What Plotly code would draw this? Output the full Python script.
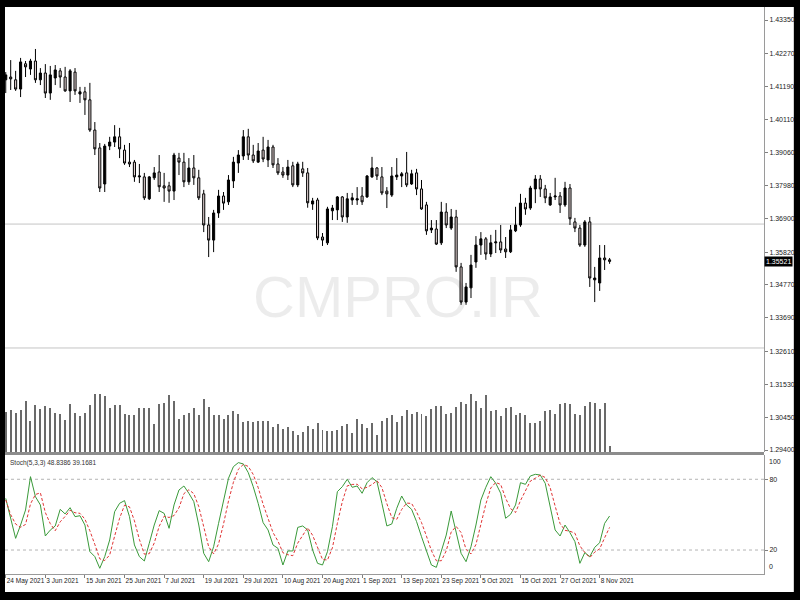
import plotly.graph_objects as go

# ---------------- data ----------------
tick_index = [0, 8, 16, 24, 32, 40, 48, 56, 64, 72, 80, 88, 96, 104, 112, 120]
tick_labels = ["24 May 2021", "3 Jun 2021", "15 Jun 2021", "25 Jun 2021", "7 Jul 2021",
               "19 Jul 2021", "29 Jul 2021", "10 Aug 2021", "20 Aug 2021", "1 Sep 2021",
               "13 Sep 2021", "23 Sep 2021", "5 Oct 2021", "15 Oct 2021", "27 Oct 2021",
               "8 Nov 2021"]

price_ticks = [1.43350, 1.42270, 1.41190, 1.40110, 1.39060, 1.37980, 1.36900,
               1.35820, 1.34770, 1.33690, 1.32610, 1.31530, 1.30450, 1.29400]

open_ = [1.4141, 1.4150, 1.4141, 1.4111, 1.4193, 1.4176, 1.4202, 1.4141, 1.4163, 1.4098,
         1.4147, 1.4170, 1.4150, 1.4105, 1.4166, 1.4095, 1.4102, 1.4076, 1.3978, 1.3920,
         1.3803, 1.3926, 1.3939, 1.3956, 1.3913, 1.3874, 1.3874, 1.3826, 1.3826, 1.3755,
         1.3823, 1.3842, 1.3797, 1.3797, 1.3780, 1.3887, 1.3874, 1.3810, 1.3855, 1.3823,
         1.3771, 1.3670, 1.3621, 1.3709, 1.3764, 1.3745, 1.3813, 1.3871, 1.3894, 1.3956,
         1.3897, 1.3874, 1.3913, 1.3881, 1.3923, 1.3868, 1.3842, 1.3832, 1.3862, 1.3800,
         1.3852, 1.3839, 1.3738, 1.3751, 1.3631, 1.3612, 1.3716, 1.3719, 1.3761, 1.3696,
         1.3751, 1.3751, 1.3764, 1.3761, 1.3826, 1.3855, 1.3826, 1.3780, 1.3767, 1.3826,
         1.3829, 1.3839, 1.3803, 1.3839, 1.3787, 1.3735, 1.3654, 1.3657, 1.3612, 1.3712,
         1.3660, 1.3696, 1.3534, 1.3420, 1.3466, 1.3550, 1.3605, 1.3625, 1.3576, 1.3612,
         1.3615, 1.3592, 1.3583, 1.3651, 1.3670, 1.3741, 1.3725, 1.3787, 1.3819, 1.3787,
         1.3735, 1.3761, 1.3764, 1.3735, 1.3790, 1.3680, 1.3660, 1.3605, 1.3680, 1.3492,
         1.3482, 1.3563, 1.3557]

high = [1.4166, 1.4205, 1.4170, 1.4212, 1.4202, 1.4209, 1.4241, 1.4179, 1.4192, 1.4186,
        1.4189, 1.4179, 1.4183, 1.4176, 1.4179, 1.4118, 1.4118, 1.4131, 1.4004, 1.3936,
        1.3933, 1.3956, 1.3994, 1.3985, 1.3930, 1.3936, 1.3881, 1.3868, 1.3839, 1.3829,
        1.3858, 1.3897, 1.3839, 1.3810, 1.3904, 1.3904, 1.3904, 1.3887, 1.3897, 1.3849,
        1.3784, 1.3696, 1.3719, 1.3784, 1.3777, 1.3832, 1.3891, 1.3913, 1.3978, 1.3982,
        1.3930, 1.3936, 1.3956, 1.3946, 1.3930, 1.3887, 1.3858, 1.3881, 1.3875, 1.3875,
        1.3875, 1.3855, 1.3758, 1.3758, 1.3644, 1.3729, 1.3735, 1.3764, 1.3764, 1.3774,
        1.3774, 1.3793, 1.3793, 1.3832, 1.3891, 1.3858, 1.3858, 1.3793, 1.3858, 1.3887,
        1.3842, 1.3907, 1.3849, 1.3852, 1.3816, 1.3745, 1.3686, 1.3686, 1.3745, 1.3741,
        1.3722, 1.3719, 1.3547, 1.3482, 1.3573, 1.3634, 1.3647, 1.3631, 1.3638, 1.3654,
        1.3670, 1.3631, 1.3670, 1.3729, 1.3771, 1.3758, 1.3797, 1.3832, 1.3832, 1.3800,
        1.3774, 1.3823, 1.3777, 1.3810, 1.3803, 1.3693, 1.3670, 1.3686, 1.3696, 1.3534,
        1.3605, 1.3605, 1.3563]

low = [1.4098, 1.4108, 1.4105, 1.4085, 1.4150, 1.4157, 1.4131, 1.4124, 1.4082, 1.4076,
       1.4124, 1.4115, 1.4102, 1.4069, 1.4092, 1.4066, 1.4027, 1.3972, 1.3897, 1.3777,
       1.3777, 1.3913, 1.3923, 1.3887, 1.3865, 1.3858, 1.3810, 1.3806, 1.3751, 1.3751,
       1.3816, 1.3777, 1.3745, 1.3742, 1.3751, 1.3832, 1.3793, 1.3800, 1.3800, 1.3751,
       1.3647, 1.3566, 1.3582, 1.3693, 1.3719, 1.3735, 1.3790, 1.3839, 1.3881, 1.3881,
       1.3871, 1.3871, 1.3874, 1.3858, 1.3855, 1.3832, 1.3823, 1.3816, 1.3793, 1.3793,
       1.3826, 1.3726, 1.3719, 1.3621, 1.3602, 1.3605, 1.3686, 1.3686, 1.3680, 1.3677,
       1.3735, 1.3735, 1.3735, 1.3758, 1.3823, 1.3816, 1.3767, 1.3725, 1.3761, 1.3816,
       1.3793, 1.3793, 1.3800, 1.3767, 1.3719, 1.3638, 1.3644, 1.3605, 1.3605, 1.3660,
       1.3654, 1.3518, 1.3411, 1.3411, 1.3433, 1.3531, 1.3573, 1.3557, 1.3566, 1.3579,
       1.3579, 1.3563, 1.3579, 1.3647, 1.3664, 1.3703, 1.3719, 1.3741, 1.3761, 1.3741,
       1.3732, 1.3751, 1.3709, 1.3729, 1.3670, 1.3647, 1.3599, 1.3599, 1.3469, 1.3420,
       1.3456, 1.3524, 1.3544]

close = [1.4157, 1.4144, 1.4111, 1.4199, 1.4183, 1.4202, 1.4141, 1.4163, 1.4098, 1.4157,
         1.4173, 1.4150, 1.4105, 1.4170, 1.4105, 1.4102, 1.4076, 1.3978, 1.3917, 1.3790,
         1.3926, 1.3939, 1.3956, 1.3917, 1.3871, 1.3868, 1.3826, 1.3829, 1.3758, 1.3826,
         1.3839, 1.3794, 1.3790, 1.3780, 1.3897, 1.3874, 1.3810, 1.3855, 1.3823, 1.3758,
         1.3670, 1.3621, 1.3709, 1.3764, 1.3741, 1.3816, 1.3874, 1.3897, 1.3956, 1.3897,
         1.3878, 1.3910, 1.3884, 1.3923, 1.3865, 1.3839, 1.3832, 1.3858, 1.3800, 1.3868,
         1.3839, 1.3742, 1.3748, 1.3628, 1.3621, 1.3722, 1.3725, 1.3761, 1.3696, 1.3755,
         1.3758, 1.3755, 1.3745, 1.3829, 1.3855, 1.3829, 1.3774, 1.3771, 1.3829, 1.3832,
         1.3836, 1.3800, 1.3836, 1.3787, 1.3722, 1.3651, 1.3660, 1.3608, 1.3712, 1.3670,
         1.3696, 1.3534, 1.3420, 1.3469, 1.3540, 1.3605, 1.3625, 1.3576, 1.3612, 1.3615,
         1.3589, 1.3583, 1.3654, 1.3670, 1.3741, 1.3722, 1.3790, 1.3819, 1.3787, 1.3758,
         1.3761, 1.3764, 1.3735, 1.3790, 1.3690, 1.3660, 1.3605, 1.3680, 1.3498, 1.3498,
         1.3563, 1.3557, 1.3552]

volume = [120, 127, 118, 127, 153, 93, 142, 130, 139, 132,
          117, 115, 97, 145, 118, 109, 118, 142, 175, 175,
          169, 132, 142, 142, 115, 112, 112, 133, 133, 133,
          85, 145, 148, 172, 154, 100, 112, 118, 133, 112,
          160, 136, 112, 112, 100, 112, 124, 115, 91, 94,
          91, 94, 94, 94, 75, 85, 69, 75, 63, 52,
          60, 79, 69, 88, 67, 63, 63, 66, 79, 85,
          58, 100, 84, 72, 87, 52, 93, 103, 112, 91,
          107, 127, 115, 120, 115, 107, 129, 139, 139, 115,
          118, 136, 151, 145, 175, 154, 133, 172, 124, 127,
          109, 133, 136, 112, 118, 112, 88, 88, 94, 124,
          127, 115, 145, 148, 145, 115, 112, 139, 151, 148,
          130, 148, 19]

stoch_k = [63.8, 46.9, 29.9, 41.2, 53.9, 82.2, 65.2, 58.2, 31.9, 36.9,
           40.4, 54.5, 50.6, 55.9, 48.3, 49.1, 41.2, 18.6, 14.4, 4.5,
           14.4, 28.5, 52.5, 59.6, 61.9, 48.3, 24.3, 14.4, 10.7, 25.7,
           41.2, 53.4, 51.1, 38.4, 58.2, 70.9, 74.3, 68.1, 61.0, 41.2,
           17.2, 10.1, 22.8, 42.6, 61.0, 80.8, 90.7, 94.1, 93.0, 85.6,
           73.7, 59.6, 43.2, 37.0, 24.3, 21.4, 7.3, 19.2, 19.2, 39.2,
           40.4, 37.0, 20.0, 8.7, 7.3, 18.6, 39.8, 69.5, 73.7, 80.0,
           73.2, 74.3, 68.1, 77.1, 81.4, 78.0, 59.6, 40.4, 42.1, 55.4,
           65.8, 58.2, 54.5, 44.1, 31.3, 20.0, 7.3, 5.3, 20.0, 32.7,
           53.1, 34.2, 17.2, 10.1, 22.8, 41.2, 62.4, 73.2, 82.2, 76.6,
           68.1, 46.9, 50.3, 58.2, 77.1, 75.7, 82.8, 84.2, 83.6, 76.6,
           58.2, 37.0, 31.9, 41.2, 34.7, 27.1, 8.7, 17.8, 14.4, 22.3,
           26.2, 42.6, 48.8386]

stoch_d = [62.4, 50.0, 42.0, 39.3, 41.7, 59.1, 67.1, 68.5, 51.8, 42.3,
           36.4, 43.9, 48.5, 53.7, 51.6, 51.1, 46.2, 36.3, 24.7, 12.5,
           11.1, 15.8, 31.8, 46.9, 58.0, 56.6, 44.8, 29.0, 16.5, 16.9,
           25.9, 40.1, 48.6, 47.6, 49.2, 55.8, 67.8, 71.1, 67.8, 56.8,
           39.8, 22.8, 16.7, 25.2, 42.1, 61.5, 77.5, 88.5, 92.6, 90.9,
           84.1, 73.0, 58.8, 46.6, 34.8, 27.6, 17.7, 16.0, 15.2, 25.9,
           32.9, 38.9, 32.5, 21.9, 12.0, 11.5, 21.9, 42.6, 61.0, 74.4,
           75.6, 75.8, 71.9, 73.2, 75.5, 78.8, 73.0, 59.3, 47.4, 46.0,
           54.4, 59.8, 59.5, 52.3, 43.3, 31.8, 19.5, 10.9, 10.9, 19.3,
           35.3, 40.0, 34.8, 20.5, 16.7, 24.7, 42.1, 58.9, 72.6, 77.3,
           75.6, 63.9, 55.1, 51.8, 61.9, 70.3, 78.5, 80.9, 83.5, 81.5,
           72.8, 57.3, 42.4, 36.7, 35.9, 34.3, 23.5, 17.9, 13.6, 18.2,
           21.0, 30.4, 39.1681]

level_lines = [1.3673, 1.3271]
stoch_levels = [80, 20]
last_price = 1.35521
stoch_title = "Stoch(5,3,3) 48.8386 39.1681"

# ---------------- figure ----------------
bars = list(range(len(close)))
FONT = "Liberation Sans, Arial, sans-serif"

fig = go.Figure()

fig.add_trace(go.Bar(x=bars, y=volume, yaxis="y3", width=0.2,
                     marker=dict(color="#6a6a6a", line=dict(width=0)),
                     hoverinfo="skip", showlegend=False))

fig.add_trace(go.Candlestick(
    x=bars, open=open_, high=high, low=low, close=close,
    increasing=dict(fillcolor="#000000", line=dict(color="#000000", width=1)),
    decreasing=dict(fillcolor="#e6d6d6", line=dict(color="#000000", width=1)),
    whiskerwidth=0, showlegend=False, yaxis="y"))

fig.add_trace(go.Scatter(x=bars, y=stoch_k, yaxis="y2", mode="lines",
                         line=dict(color="#3a9a3a", width=1), showlegend=False))
fig.add_trace(go.Scatter(x=bars, y=stoch_d, yaxis="y2", mode="lines",
                         line=dict(color="#e03434", width=1, dash="3px,2px"),
                         showlegend=False))

shapes = [
    # white chart canvas inside the black frame
    dict(type="rect", xref="paper", yref="paper", x0=0, x1=1.0393, y0=-0.0317, y1=1,
         fillcolor="white", line=dict(width=0), layer="below"),
    # window separator
    dict(type="rect", xref="paper", yref="paper", x0=0, x1=1, y0=0.2099, y1=0.2152,
         fillcolor="#8c8c8c", line=dict(width=0), layer="above"),
]
for lv in level_lines:
    shapes.append(dict(type="line", xref="paper", yref="y", x0=0, x1=1, y0=lv, y1=lv,
                       line=dict(color="#c4c4c4", width=1), layer="below"))
for lv in stoch_levels:
    shapes.append(dict(type="line", xref="paper", yref="y2", x0=0, x1=1, y0=lv, y1=lv,
                       line=dict(color="#b4b4b4", width=1, dash="dot"), layer="below"))

annotations = [
    dict(text="CMPRO.IR", xref="paper", yref="paper", x=0.518, y=0.49,
         showarrow=False, font=dict(family=FONT, size=58, color="rgba(0,0,0,0.075)")),
    dict(text="%.5f" % last_price, xref="paper", yref="y", x=1, y=last_price,
         xanchor="left", yanchor="middle", showarrow=False, bgcolor="#000000",
         borderpad=1, font=dict(family=FONT, size=7, color="white")),
    dict(text=stoch_title, xref="paper", yref="y2", x=0.004, y=93.5,
         xanchor="left", yanchor="middle", showarrow=False,
         font=dict(family=FONT, size=6.5, color="#333333")),
    dict(text="100", xref="paper", yref="y2", x=1, y=94.7, xanchor="left", xshift=3,
         yanchor="middle", showarrow=False, font=dict(family=FONT, size=7, color="#222222")),
    dict(text="0", xref="paper", yref="y2", x=1, y=5.6, xanchor="left", xshift=3,
         yanchor="middle", showarrow=False, font=dict(family=FONT, size=7, color="#222222")),
]

fig.update_layout(
    width=800, height=600,
    margin=dict(l=5, r=32, t=7, b=26),
    paper_bgcolor="#000000", plot_bgcolor="white",
    boxgap=0.4, bargap=0,
    showlegend=False,
    shapes=shapes, annotations=annotations,
    font=dict(family=FONT, size=7, color="#222222"),
    xaxis=dict(range=[-0.15, 153.2], anchor="y2", showgrid=False, zeroline=False,
               rangeslider=dict(visible=False),
               tickvals=tick_index, ticktext=tick_labels, tickangle=0,
               ticklabelposition="outside right",
               ticks="outside", ticklen=3, tickcolor="#808080",
               showline=True, linecolor="#9a9a9a", linewidth=1,
               tickfont=dict(family=FONT, size=6.5, color="#222222")),
    yaxis=dict(domain=[0.2152, 1], range=[1.29336, 1.43772], side="right",
               tickvals=price_ticks, ticktext=["%.5f" % v for v in price_ticks],
               ticks="outside", ticklen=3, tickcolor="#808080",
               showgrid=False, zeroline=False, showline=True,
               linecolor="#9a9a9a", linewidth=1,
               tickfont=dict(family=FONT, size=7, color="#222222")),
    yaxis2=dict(domain=[0, 0.2099], range=[-0.34, 100.59], side="right",
                tickvals=stoch_levels, ticktext=[str(v) for v in stoch_levels],
                ticks="outside", ticklen=3, tickcolor="#808080",
                showgrid=False, zeroline=False, showline=True,
                linecolor="#9a9a9a", linewidth=1,
                tickfont=dict(family=FONT, size=7, color="#222222")),
    yaxis3=dict(overlaying="y", range=[0, 1335], visible=False, showgrid=False),
)

fig.write_html("out.html",
               config={"displayModeBar": False},
               post_script="document.body.style.margin='0';"
                           "document.body.style.background='#000';"
                           "document.body.style.overflow='hidden';")
